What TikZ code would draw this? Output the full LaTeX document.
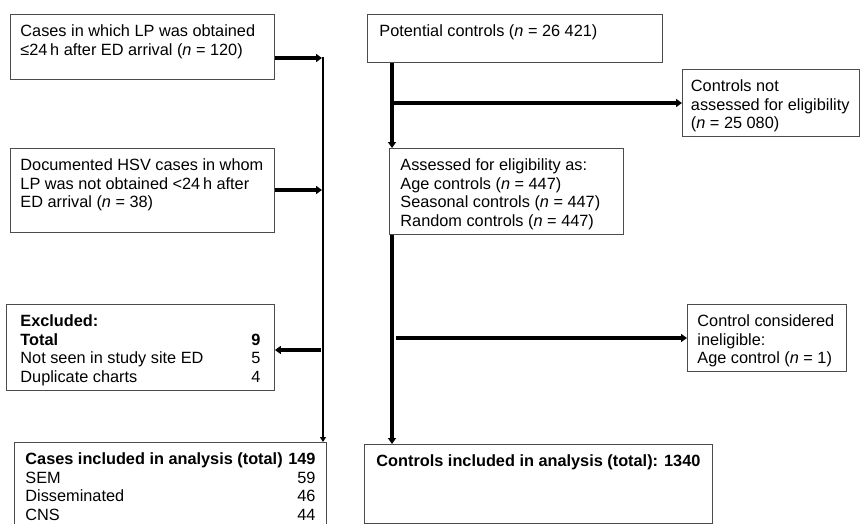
\documentclass[tikz,border=0pt]{standalone}
\usepackage{fontspec}
\setmainfont{Liberation Sans}
\usetikzlibrary{arrows.meta}

\newcommand{\boxtext}[3]{\begin{minipage}[t][#2][t]{#1}\raggedright #3\end{minipage}}

\begin{document}
\begin{tikzpicture}[
    x=1pt, y=-1pt,
    box/.style   ={draw=black!70, line width=0.9pt, anchor=north west,
                   inner xsep=12pt, inner ysep=10pt,
                   font=\fontsize{16.3}{18.8}\selectfont},
    arrow/.style ={-{Triangle[length=6pt, width=8pt]}, line width=3.8pt},
    spine/.style ={-{Triangle[length=5pt, width=6pt]}, line width=2pt},
]
\clip (0,0) rectangle (860,523);

% ── Cases ───────────────────────────────────────────────────────────────
\node[box, inner xsep=10pt] (cases) at (10,14)
      {\boxtext{244pt}{45pt}{Cases in which LP was obtained\\
       ≤24\,h after ED arrival (\textit{n} = 120)}};
\node[box, inner xsep=10pt] (hsv) at (10,148)
      {\boxtext{244pt}{64pt}{Documented HSV cases in whom\\
       LP was not obtained <24\,h after\\
       ED arrival (\textit{n} = 38)}};
\node[box, inner xsep=14pt] (excl) at (6,304)
      {\boxtext{240pt}{66pt}{\textbf{Excluded:}\\
       \textbf{Total}\hfill\textbf{9}\\
       Not seen in study site ED\hfill 5\\
       Duplicate charts\hfill 4}};
\node[box, inner xsep=11pt] (incl) at (14,442)
      {\boxtext{290pt}{74pt}{\textbf{Cases included in analysis (total)}\hfill\textbf{149}\\
       SEM\hfill 59\\
       Disseminated\hfill 46\\
       CNS\hfill 44}};

% ── Controls ────────────────────────────────────────────────────────────
\node[box] (pot) at (367,14)
      {\boxtext{271pt}{28pt}{Potential controls (\textit{n} = 26~421)}};
\node[box, inner xsep=8.5pt] (notass) at (682,69)
      {\boxtext{160pt}{47pt}{Controls not\\
       assessed for eligibility\\
       (\textit{n} = 25~080)}};
\node[box, inner xsep=11pt] (assess) at (389,148)
      {\boxtext{212pt}{66pt}{Assessed for eligibility as:\\
       Age controls (\textit{n} = 447)\\
       Seasonal controls (\textit{n} = 447)\\
       Random controls (\textit{n} = 447)}};
\node[box, inner xsep=10pt] (inelig) at (687,304)
      {\boxtext{139pt}{47pt}{Control considered\\
       ineligible:\\
       Age control (\textit{n} = 1)}};
\node[box] (ctrlincl) at (364,444)
      {\boxtext{324pt}{58.5pt}{\textbf{Controls included in analysis (total): 1340}}};

% ── Junctions ───────────────────────────────────────────────────────────
\coordinate (ltop) at (323,57);
\coordinate (jA)   at (322,58);
\coordinate (jB)   at (322,190);
\coordinate (jX)   at (321,350);
\coordinate (rs)   at (392,0);
\coordinate (jN)   at (392,103);
\coordinate (jI)   at (396,338);

% ── Arrows ──────────────────────────────────────────────────────────────
\draw[spine] (ltop) -- (ltop |- incl.north);
\draw[arrow] (cases.east |- jA) -- (jA);
\draw[arrow] (hsv.east |- jB)   -- (jB);
\draw[arrow] (jX) -- (excl.east |- jX);
\draw[arrow] (pot.south -| rs)    -- (assess.north -| rs);
\draw[arrow] (jN) -- (notass.west |- jN);
\draw[arrow] (assess.south -| rs) -- (ctrlincl.north -| rs);
\draw[arrow] (jI) -- (inelig.west |- jI);

\end{tikzpicture}
\end{document}
